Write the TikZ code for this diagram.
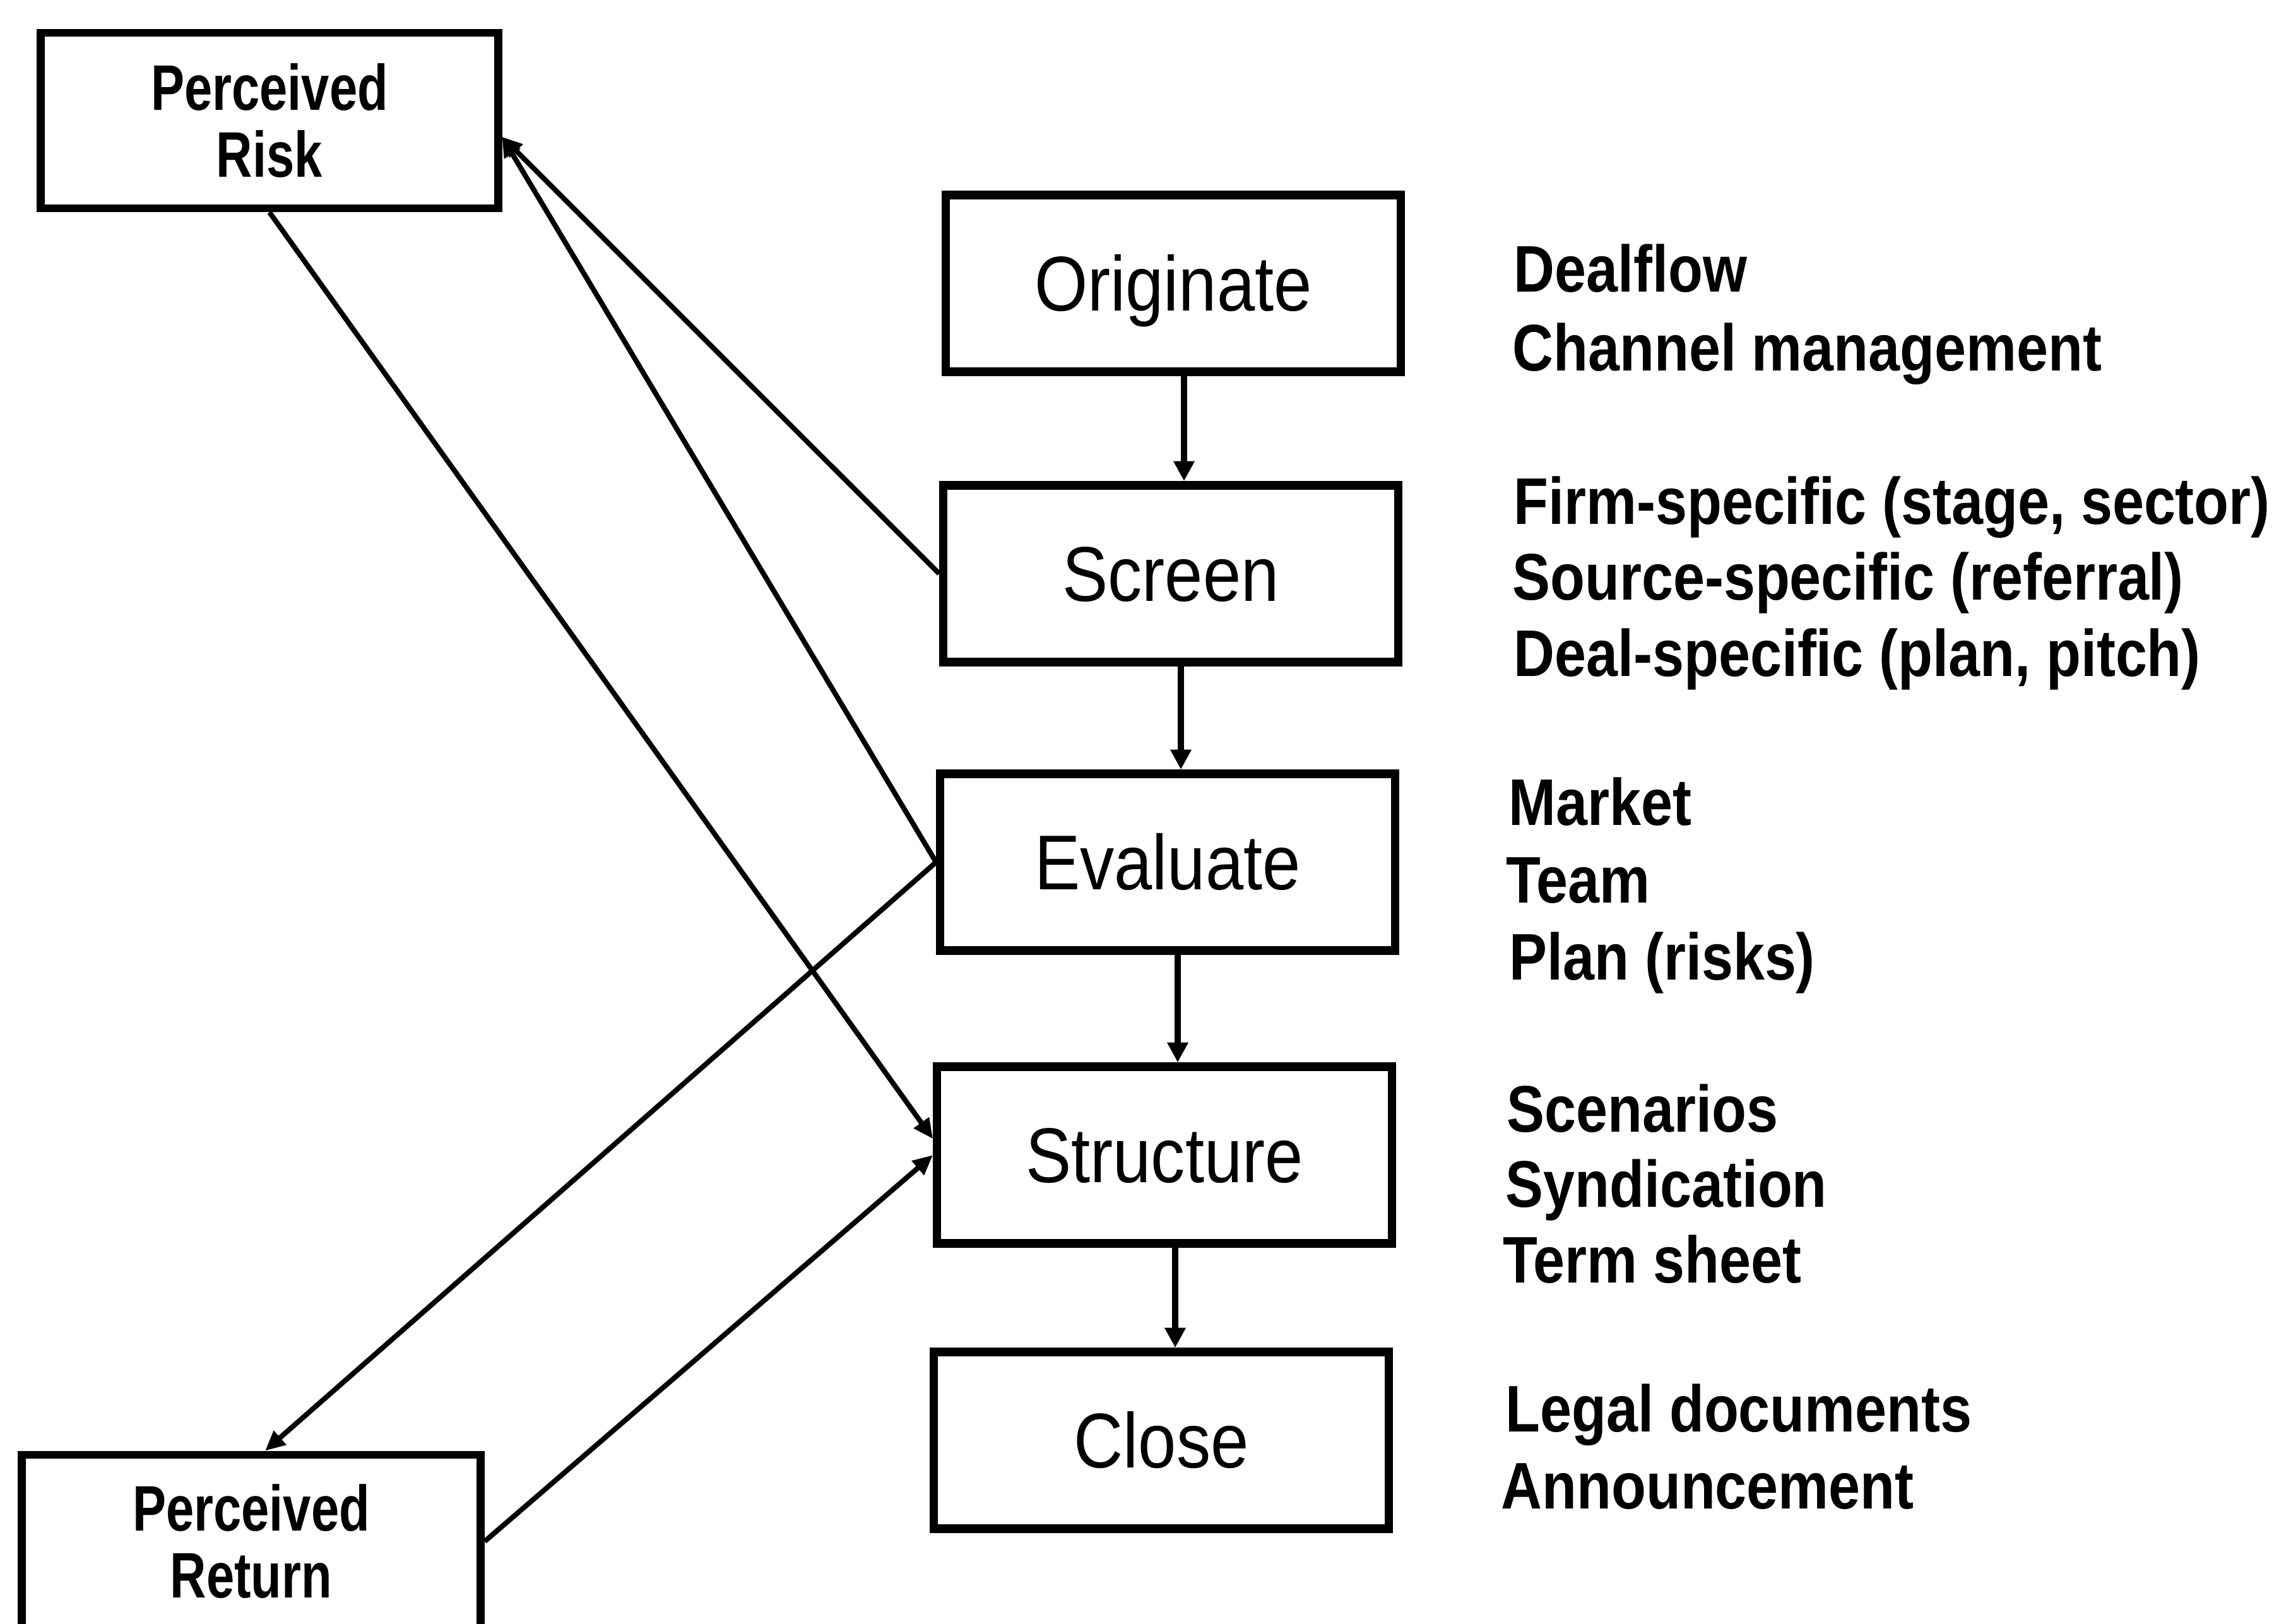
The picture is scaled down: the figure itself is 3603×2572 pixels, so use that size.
\documentclass[tikz,border=0pt]{standalone}
\usepackage{fontspec}
\setmainfont{Liberation Sans}
\newfontfamily\stagefont{Liberation Sans}[FakeStretch=0.88]
\newfontfamily\notefont{Liberation Sans}[FakeStretch=0.86]
\newfontfamily\percfont{Liberation Sans}[FakeStretch=0.78]
\usetikzlibrary{arrows.meta,calc}

\tikzset{
  stage/.style={draw, line width=3.8pt, minimum width=7.2cm, minimum height=2.8cm,
    inner sep=0pt, font=\stagefont\fontsize{35}{40}\selectfont,
    text height=25pt, text depth=0pt},
  percbox/.style={draw, line width=3.6pt, minimum width=7.24cm, minimum height=2.78cm,
    inner sep=0pt, align=center, font=\percfont\bfseries\fontsize{29}{30.3}\selectfont},
  note/.style={anchor=base west, inner sep=0pt,
    font=\notefont\bfseries\fontsize{29.7}{34}\selectfont},
  flow/.style={line width=3pt, -{Triangle[length=9pt,width=9pt]}},
  link/.style={line width=2.3pt, -{Triangle[length=9pt,width=8pt]}},
}

\begin{document}
\begin{tikzpicture}[x=0.01cm, y=-0.01cm]
  \fill[white] (0,0) rectangle (3603,2572);
  \useasboundingbox (0,0) rectangle (3603,2572);

  % perception boxes
  \node[percbox] (risk) at (427,191) {Perceived\\Risk};
  \node[percbox, minimum width=7.27cm, minimum height=2.74cm] (return) at (398,2442) {Perceived\\Return};

  % process stages
  \node[stage] (originate) at (1859,449)  {Originate};
  \node[stage] (screen)    at (1855,909)  {Screen};
  \node[stage] (evaluate)  at (1850,1366) {Evaluate};
  \node[stage] (structure) at (1845,1830) {Structure};
  \node[stage] (close)     at (1840,2282) {Close};

  % stage flow
  \draw[flow] ($(originate.south)+(17,0)$) -- ($(screen.north)+(21,0)$);
  \draw[flow] ($(screen.south)+(16,0)$)    -- ($(evaluate.north)+(21,0)$);
  \draw[flow] ($(evaluate.south)+(16,0)$)  -- ($(structure.north)+(21,0)$);
  \draw[flow] ($(structure.south)+(17,0)$) -- ($(close.north)+(22,0)$);

  % risk / return links
  \draw[link] (screen.west)   -- (risk.356.5);
  \draw[link] (evaluate.west) -- (risk.356.5);
  \draw[link] (risk.south)    -- (structure.176);
  \draw[link] (evaluate.west) -- ($(return.north)+(22,0)$);
  \draw[link] (return.east)   -- (structure.west);

  % activities per stage
  \node[note] (n1)  at (2398,462)  {Dealflow};
  \node[note] (n2)  at (2396,587)  {Channel management};
  \node[note] (n3)  at (2398,830)  {Firm-specific (stage, sector)};
  \node[note] (n4)  at (2396,950)  {Source-specific (referral)};
  \node[note] (n5)  at (2398,1071) {Deal-specific (plan, pitch)};
  \node[note] (n6)  at (2390,1307) {Market};
  \node[note] (n7)  at (2386,1430) {Team};
  \node[note] (n8)  at (2391,1552) {Plan (risks)};
  \node[note] (n9)  at (2387,1793) {Scenarios};
  \node[note] (n10) at (2385,1912) {Syndication};
  \node[note] (n11) at (2381,2032) {Term sheet};
  \node[note] (n12) at (2385,2268) {Legal documents};
  \node[note] (n13) at (2378,2390) {Announcement};
\end{tikzpicture}
\end{document}
